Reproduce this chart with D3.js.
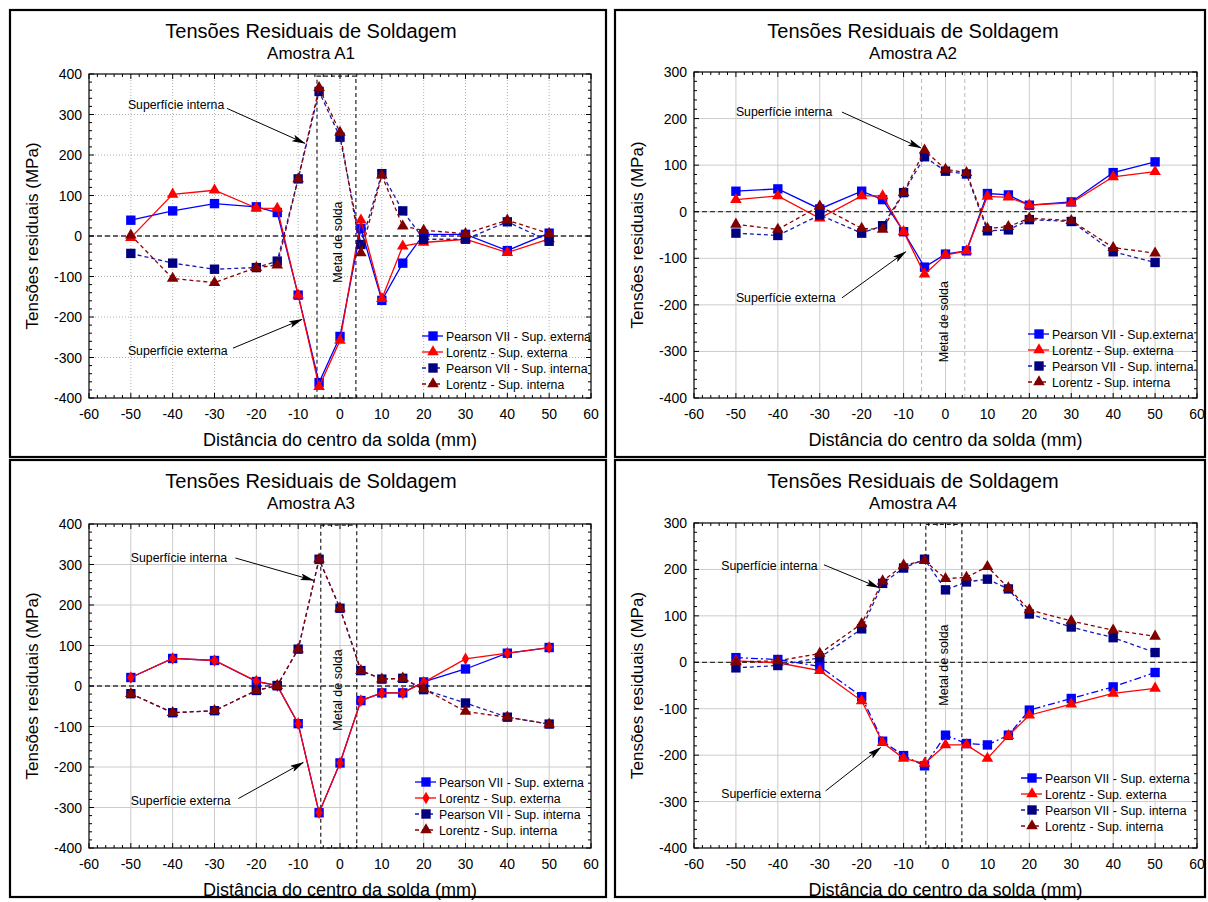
<!DOCTYPE html>
<html>
<head>
<meta charset="utf-8">
<script src="https://cdn.jsdelivr.net/npm/d3@7"></script>
<style>
  body { margin: 0; background: #fff; }
  svg { display: block; font-family: Arial, "Liberation Sans", sans-serif; }
</style>
</head>
<body>
<div id="chart"></div>
<script>
// distances (mm) – same positions for all four samples
const distances = [-50, -40, -30, -20, -15, -10, -5, 0, 5, 10, 15, 20, 30, 40, 50];

// Amostra A1
const a1PearsonExt = [39, 62, 80, 72, 58, -146, -362, -248, 18, -159, -67, 4, 4, -36, 7];
const a1LorentzExt = [-4, 103, 113, 69, 68, -146, -372, -258, 39, -155, -25, -16, -8, -41, -7];
const a1PearsonInt = [-43, -67, -82, -78, -62, 141, 357, 244, -21, 154, 62, -8, -8, 35, -13];
const a1LorentzInt = [2, -105, -115, -78, -72, 141, 366, 256, -42, 150, 24, 14, 6, 39, 6];

// Amostra A2
const a2PearsonExt = [44, 49, 6, 44, 26, -43, -119, -91, -84, 39, 36, 14, 21, 84, 107];
const a2LorentzExt = [26, 34, -14, 34, 34, -43, -134, -93, -84, 33, 31, 14, 19, 75, 86];
const a2PearsonInt = [-46, -51, -7, -46, -30, 41, 118, 87, 81, -41, -39, -17, -21, -86, -109];
const a2LorentzInt = [-27, -38, 12, -36, -38, 41, 132, 91, 84, -36, -32, -14, -19, -77, -89];

// Amostra A3
const a3PearsonExt = [21, 68, 63, 11, 1, -93, -313, -190, -36, -17, -17, 10, 42, 81, 95];
const a3LorentzExt = [21, 68, 63, 12, 1, -93, -313, -190, -36, -17, -17, 9, 67, 81, 95];
const a3PearsonInt = [-19, -66, -61, -11, 1, 91, 313, 192, 38, 17, 19, -9, -42, -77, -94];
const a3LorentzInt = [-19, -66, -61, -11, 1, 91, 313, 192, 38, 17, 19, -7, -63, -77, -94];

// Amostra A4
const a4PearsonExt = [10, 6, -9, -74, -170, -201, -223, -157, -175, -178, -157, -103, -78, -53, -22];
const a4LorentzExt = [3, -1, -18, -83, -173, -207, -218, -178, -178, -207, -158, -114, -90, -67, -56];
const a4PearsonInt = [-12, -7, 10, 72, 170, 203, 222, 156, 173, 179, 158, 104, 76, 53, 21];
const a4LorentzInt = [1, 3, 19, 83, 175, 209, 219, 180, 183, 206, 160, 113, 89, 69, 56];

// texts
const mainTitle = "Tensões Residuais de Soldagem";
const xTitle = "Distância do centro da solda (mm)";
const yTitle = "Tensões residuais (MPa)";
const xTicks = d3.range(-60, 61, 10);

const svg = d3.select("#chart").append("svg")
    .attr("width", 1208)
    .attr("height", 902);

// arrow head
svg.append("defs").append("marker")
    .attr("id", "arrow")
    .attr("viewBox", "0 0 14 7")
    .attr("refX", 13).attr("refY", 3.5)
    .attr("markerWidth", 14).attr("markerHeight", 7)
    .attr("markerUnits", "userSpaceOnUse")
    .attr("orient", "auto")
    .append("path")
    .attr("d", "M0,0 L14,3.5 L0,7 L3,3.5 Z")
    .attr("fill", "#000");

function styles(extLabel, lorentzMarker, pearsonExtDash) {
    return [
        { label: extLabel, color: "#0000ff", line: "#0000ff", dash: pearsonExtDash, symbol: d3.symbolSquare, size: 88 },
        { label: "Lorentz - Sup. externa", color: "#ff0000", line: "#ff0000", dash: null, symbol: lorentzMarker, size: lorentzMarker === d3.symbolDiamond ? 46 : 58 },
        { label: "Pearson VII - Sup. interna", color: "#000080", line: "#1a1ab0", dash: "4,3", symbol: d3.symbolSquare, size: 88 },
        { label: "Lorentz - Sup. interna", color: "#800000", line: "#8b0000", dash: "4,3", symbol: d3.symbolTriangle, size: 58 }
    ];
}

const panels = [
    {
        name: "Amostra A1", frame: [10, 10, 606, 457],
        plot: { x0: 89, x1: 591, y0: 74, y1: 398 }, yDomain: [-400, 400], gridDash: "1,2",
        series: [a1PearsonExt, a1LorentzExt, a1PearsonInt, a1LorentzInt],
        styles: styles("Pearson VII - Sup. externa", d3.symbolTriangle, null),
        metal: { type: "box", x: [-5.5, 3.8], top: 395, text: [-0.5, -15] },
        notes: [
            { text: "Superfície interna", at: [-50.7, 323], from: [-27, 315], to: [-8.4, 229] },
            { text: "Superfície externa", at: [-50.7, -285], from: [-25.6, -277], to: [-9.1, -206] }
        ],
        legend: [333, 262]
    },
    {
        name: "Amostra A2", frame: [615, 10, 1205, 457],
        plot: { x0: 694, x1: 1197, y0: 72, y1: 398 }, yDomain: [-400, 300], gridDash: null,
        series: [a2PearsonExt, a2LorentzExt, a2PearsonInt, a2LorentzInt],
        styles: styles("Pearson VII - Sup.externa", d3.symbolTriangle, null),
        metal: { type: "lines", x: [-5.7, 4.6], text: [-0.4, -236] },
        notes: [
            { text: "Superfície interna", at: [-50, 214], from: [-24.7, 214], to: [-5.9, 137] },
            { text: "Superfície externa", at: [-50, -185], from: [-24.7, -185], to: [-9.5, -86] }
        ],
        legend: [334, 262]
    },
    {
        name: "Amostra A3", frame: [10, 460, 606, 897],
        plot: { x0: 89, x1: 591, y0: 524, y1: 848 }, yDomain: [-400, 400], gridDash: null,
        series: [a3PearsonExt, a3LorentzExt, a3PearsonInt, a3LorentzInt],
        styles: styles("Pearson VII - Sup. externa", d3.symbolDiamond, null),
        metal: { type: "box", x: [-4.6, 4.0], top: 397, text: [-0.5, -10] },
        notes: [
            { text: "Superfície interna", at: [-50, 316], from: [-25, 316], to: [-6.4, 261] },
            { text: "Superfície externa", at: [-50, -285], from: [-24.3, -278], to: [-8.8, -189] }
        ],
        legend: [326, 258]
    },
    {
        name: "Amostra A4", frame: [615, 460, 1205, 897],
        plot: { x0: 694, x1: 1197, y0: 523, y1: 848 }, yDomain: [-400, 300], gridDash: null,
        series: [a4PearsonExt, a4LorentzExt, a4PearsonInt, a4LorentzInt],
        styles: styles("Pearson VII - Sup. externa", d3.symbolTriangle, "7,3,2,3"),
        metal: { type: "box", x: [-4.7, 3.9], top: 297, text: [-0.4, -6] },
        notes: [
            { text: "Superfície interna", at: [-53.5, 208], from: [-29, 210], to: [-15.9, 161] },
            { text: "Superfície externa", at: [-53.5, -284], from: [-28.6, -277], to: [-15.5, -184] }
        ],
        legend: [327, 255]
    }
];

function drawPanel(p) {
    const g = svg.append("g");
    const [fx0, fy0, fx1, fy1] = p.frame;
    const pl = p.plot;

    g.append("rect")
        .attr("x", fx0).attr("y", fy0)
        .attr("width", fx1 - fx0).attr("height", fy1 - fy0)
        .attr("fill", "none").attr("stroke", "#000").attr("stroke-width", 2.2);

    const x = d3.scaleLinear().domain([-60, 60]).range([pl.x0, pl.x1]);
    const y = d3.scaleLinear().domain(p.yDomain).range([pl.y1, pl.y0]);
    const yTicks = d3.range(p.yDomain[0], p.yDomain[1] + 1, 100);

    // titles
    const cx = (fx0 + fx1) / 2 + 3;
    g.append("text").attr("x", cx).attr("y", fy0 + 28)
        .attr("text-anchor", "middle").attr("font-size", 20).text(mainTitle);
    g.append("text").attr("x", cx).attr("y", fy0 + 49)
        .attr("text-anchor", "middle").attr("font-size", 17).text(p.name);

    // grid
    const grid = g.append("g")
        .attr("stroke", p.gridDash ? "#b0b0b0" : "#cccccc")
        .attr("stroke-width", 1)
        .attr("stroke-dasharray", p.gridDash);
    grid.selectAll(".gx").data(xTicks.slice(1, -1)).enter().append("line")
        .attr("x1", d => x(d)).attr("x2", d => x(d))
        .attr("y1", pl.y0).attr("y2", pl.y1);
    grid.selectAll(".gy").data(yTicks.slice(1, -1)).enter().append("line")
        .attr("y1", d => y(d)).attr("y2", d => y(d))
        .attr("x1", pl.x0).attr("x2", pl.x1);

    // metal de solda region
    const m = p.metal;
    if (m.type === "box") {
        g.append("rect")
            .attr("x", x(m.x[0])).attr("y", y(m.top))
            .attr("width", x(m.x[1]) - x(m.x[0]))
            .attr("height", pl.y1 - y(m.top))
            .attr("fill", "none").attr("stroke", "#222").attr("stroke-width", 1.2)
            .attr("stroke-dasharray", "4,3");
    } else {
        g.selectAll(".ml").data(m.x).enter().append("line")
            .attr("x1", d => x(d)).attr("x2", d => x(d))
            .attr("y1", pl.y0).attr("y2", pl.y1)
            .attr("stroke", "#b8b8b8").attr("stroke-width", 1)
            .attr("stroke-dasharray", "4,3");
    }
    g.append("text")
        .attr("transform", `translate(${x(m.text[0]) + 4},${y(m.text[1])})rotate(-90)`)
        .attr("text-anchor", "middle").attr("font-size", 12.5).text("Metal de solda");

    // zero line
    g.append("line")
        .attr("x1", pl.x0).attr("x2", pl.x1)
        .attr("y1", y(0)).attr("y2", y(0))
        .attr("stroke", "#333").attr("stroke-width", 1.3)
        .attr("stroke-dasharray", "5,3");

    // axes frame
    g.append("rect")
        .attr("x", pl.x0).attr("y", pl.y0)
        .attr("width", pl.x1 - pl.x0).attr("height", pl.y1 - pl.y0)
        .attr("fill", "none").attr("stroke", "#000").attr("stroke-width", 1.2);

    // ticks on all four sides (inside), major and minor
    const tickG = g.append("g").attr("stroke", "#000").attr("stroke-width", 1);
    const xMinor = d3.range(-60, 61, 2);
    const yMinor = d3.range(p.yDomain[0], p.yDomain[1] + 1, 20);
    tickG.selectAll(".tb").data(xMinor).enter().append("line")
        .attr("x1", d => x(d)).attr("x2", d => x(d))
        .attr("y1", pl.y1).attr("y2", d => pl.y1 - (d % 10 === 0 ? 5 : 3));
    tickG.selectAll(".tt").data(xMinor).enter().append("line")
        .attr("x1", d => x(d)).attr("x2", d => x(d))
        .attr("y1", pl.y0).attr("y2", d => pl.y0 + (d % 10 === 0 ? 5 : 3));
    tickG.selectAll(".tl").data(yMinor).enter().append("line")
        .attr("y1", d => y(d)).attr("y2", d => y(d))
        .attr("x1", pl.x0).attr("x2", d => pl.x0 + (d % 100 === 0 ? 5 : 3));
    tickG.selectAll(".tr").data(yMinor).enter().append("line")
        .attr("y1", d => y(d)).attr("y2", d => y(d))
        .attr("x1", pl.x1).attr("x2", d => pl.x1 - (d % 100 === 0 ? 5 : 3));

    // tick labels
    g.append("g").selectAll("text").data(xTicks).enter().append("text")
        .attr("x", d => x(d)).attr("y", pl.y1 + 21)
        .attr("text-anchor", "middle").attr("font-size", 14).text(d => d);
    g.append("g").selectAll("text").data(yTicks).enter().append("text")
        .attr("x", pl.x0 - 7).attr("y", d => y(d) + 5)
        .attr("text-anchor", "end").attr("font-size", 14).text(d => d);

    // axis titles
    g.append("text").attr("x", (pl.x0 + pl.x1) / 2).attr("y", pl.y1 + 48)
        .attr("text-anchor", "middle").attr("font-size", 18).text(xTitle);
    g.append("text")
        .attr("transform", `translate(${fx0 + 28},${(pl.y0 + pl.y1) / 2})rotate(-90)`)
        .attr("text-anchor", "middle").attr("font-size", 17).text(yTitle);

    // series
    const line = d3.line().x(d => x(d[0])).y(d => y(d[1]));
    p.series.forEach((vals, i) => {
        const st = p.styles[i];
        const pts = distances.map((d, j) => [d, vals[j]]);
        g.append("path").datum(pts)
            .attr("d", line)
            .attr("fill", "none").attr("stroke", st.line).attr("stroke-width", 1.3)
            .attr("stroke-dasharray", st.dash);
        g.append("g").selectAll("path").data(pts).enter().append("path")
            .attr("transform", d => `translate(${x(d[0])},${y(d[1])})`)
            .attr("d", d3.symbol().type(st.symbol).size(st.size))
            .attr("fill", st.color);
    });

    // annotations
    p.notes.forEach(n => {
        g.append("text").attr("x", x(n.at[0])).attr("y", y(n.at[1]) + 4)
            .attr("font-size", 12.3).text(n.text);
        g.append("line")
            .attr("x1", x(n.from[0])).attr("y1", y(n.from[1]))
            .attr("x2", x(n.to[0])).attr("y2", y(n.to[1]))
            .attr("stroke", "#000").attr("stroke-width", 1)
            .attr("marker-end", "url(#arrow)");
    });

    // legend
    const lg = g.append("g").attr("transform", `translate(${pl.x0 + p.legend[0]},${pl.y0 + p.legend[1]})`);
    p.styles.forEach((st, i) => {
        const row = lg.append("g").attr("transform", `translate(0,${i * 16})`);
        row.append("line").attr("x1", 0).attr("x2", 21)
            .attr("stroke", st.line).attr("stroke-width", 1.3)
            .attr("stroke-dasharray", st.dash);
        row.append("path").attr("transform", "translate(11,0)")
            .attr("d", d3.symbol().type(st.symbol).size(st.size))
            .attr("fill", st.color);
        row.append("text").attr("x", 24).attr("y", 4.5)
            .attr("font-size", 12.3).text(st.label);
    });
}

panels.forEach(drawPanel);
</script>
</body>
</html>
